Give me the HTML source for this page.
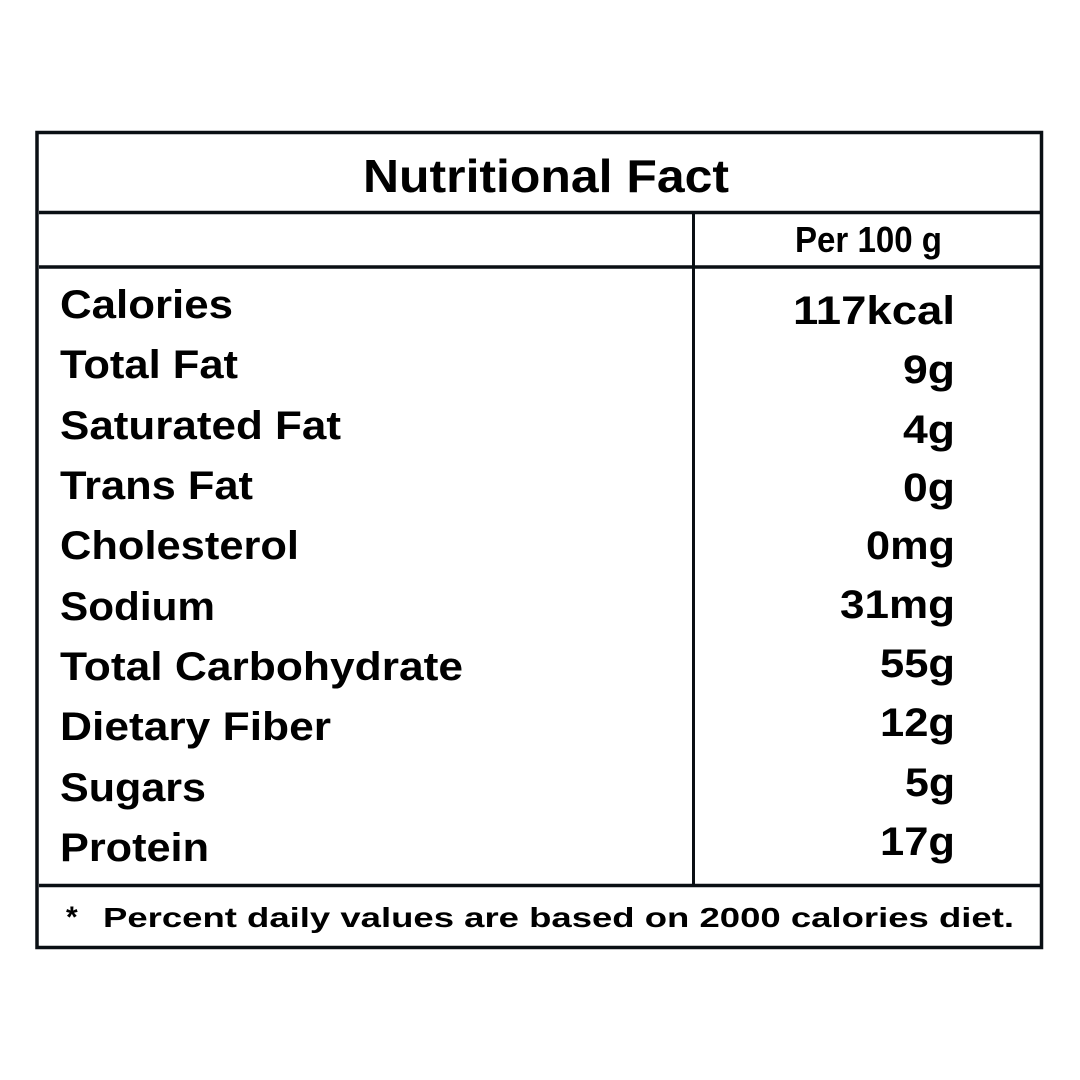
<!DOCTYPE html>
<html><head><style>body{margin:0;background:#fff}svg{display:block}</style></head>
<body>
<svg width="1080" height="1080" viewBox="0 0 1080 1080" xmlns="http://www.w3.org/2000/svg" font-family="Liberation Sans, Arial, sans-serif" fill="#000">
<rect x="37" y="132.5" width="1004.5" height="815" fill="none" stroke="#0a0f14" stroke-width="3.5"/>
<line x1="39" y1="212.5" x2="1040" y2="212.5" stroke="#0a0f14" stroke-width="3.5"/>
<line x1="39" y1="267" x2="1040" y2="267" stroke="#0a0f14" stroke-width="3.5"/>
<line x1="39" y1="885.5" x2="1040" y2="885.5" stroke="#0a0f14" stroke-width="3.5"/>
<line x1="693.5" y1="212" x2="693.5" y2="886" stroke="#0a0f14" stroke-width="3"/>
<text x="363" y="192" font-size="46" font-weight="bold" textLength="366" lengthAdjust="spacingAndGlyphs">Nutritional Fact</text>
<text x="795" y="252" font-size="36" font-weight="bold" textLength="147" lengthAdjust="spacingAndGlyphs">Per 100 g</text>
<g font-size="40" font-weight="bold">
<text x="60" y="318" textLength="173" lengthAdjust="spacingAndGlyphs">Calories</text>
<text x="60" y="378" textLength="178" lengthAdjust="spacingAndGlyphs">Total Fat</text>
<text x="60" y="439" textLength="281" lengthAdjust="spacingAndGlyphs">Saturated Fat</text>
<text x="60" y="499" textLength="193" lengthAdjust="spacingAndGlyphs">Trans Fat</text>
<text x="60" y="559" textLength="239" lengthAdjust="spacingAndGlyphs">Cholesterol</text>
<text x="60" y="620" textLength="155" lengthAdjust="spacingAndGlyphs">Sodium</text>
<text x="60" y="680" textLength="403" lengthAdjust="spacingAndGlyphs">Total Carbohydrate</text>
<text x="60" y="740" textLength="271" lengthAdjust="spacingAndGlyphs">Dietary Fiber</text>
<text x="60" y="801" textLength="146" lengthAdjust="spacingAndGlyphs">Sugars</text>
<text x="60" y="861" textLength="149" lengthAdjust="spacingAndGlyphs">Protein</text>
<text x="793" y="324" textLength="162" lengthAdjust="spacingAndGlyphs">117kcal</text>
<text x="903" y="383" textLength="52" lengthAdjust="spacingAndGlyphs">9g</text>
<text x="903" y="443" textLength="52" lengthAdjust="spacingAndGlyphs">4g</text>
<text x="903" y="501" textLength="52" lengthAdjust="spacingAndGlyphs">0g</text>
<text x="866" y="559" textLength="89" lengthAdjust="spacingAndGlyphs">0mg</text>
<text x="840" y="618" textLength="115" lengthAdjust="spacingAndGlyphs">31mg</text>
<text x="880" y="677" textLength="75" lengthAdjust="spacingAndGlyphs">55g</text>
<text x="880" y="736" textLength="75" lengthAdjust="spacingAndGlyphs">12g</text>
<text x="905" y="796" textLength="50" lengthAdjust="spacingAndGlyphs">5g</text>
<text x="880" y="855" textLength="75" lengthAdjust="spacingAndGlyphs">17g</text>
</g>
<text x="66" y="927" font-size="30" font-weight="bold">*</text>
<text x="103" y="927" font-size="28" font-weight="bold" textLength="911" lengthAdjust="spacingAndGlyphs">Percent daily values are based on 2000 calories diet.</text>
</svg>
</body></html>
